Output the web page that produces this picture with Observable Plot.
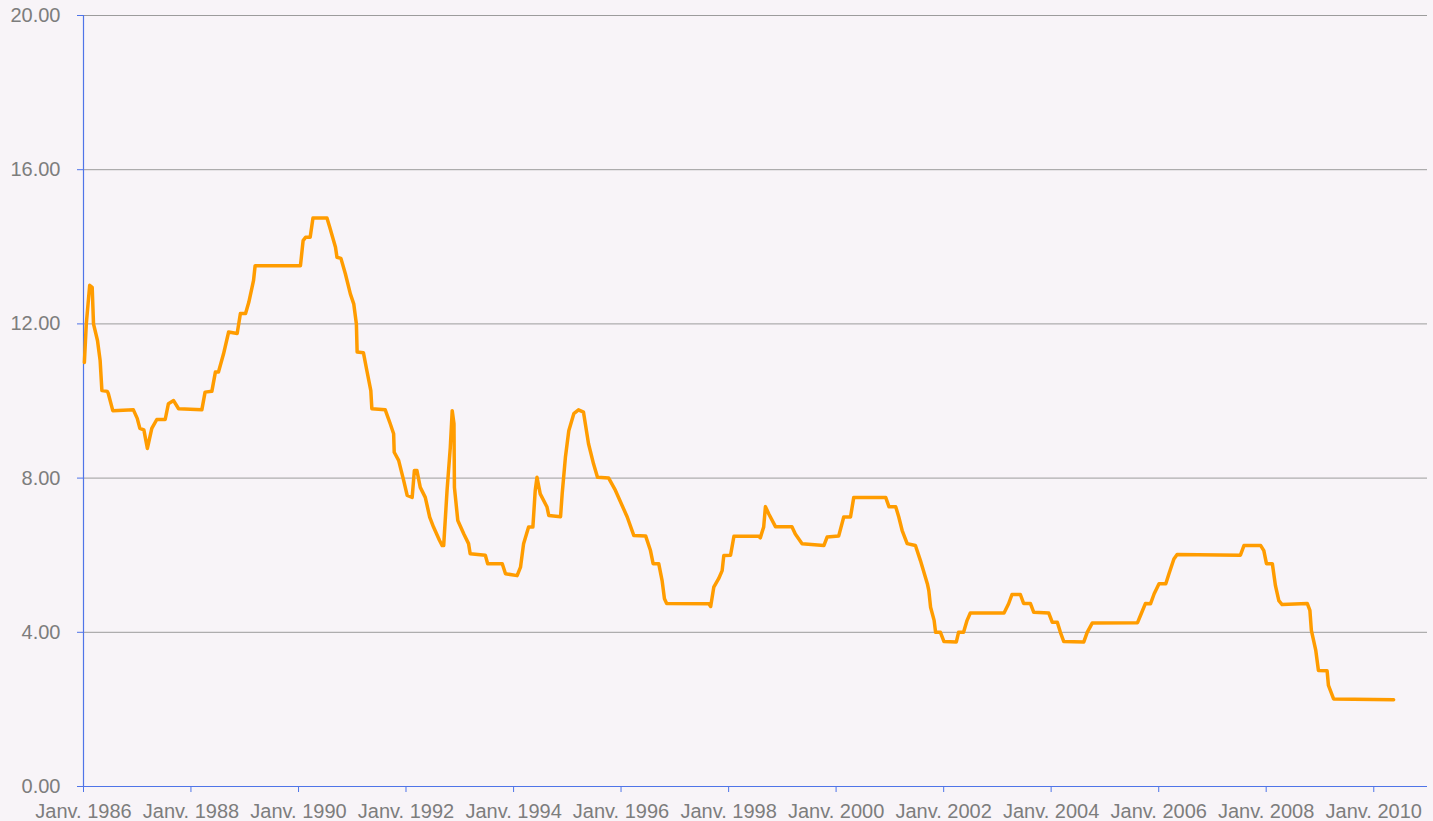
<!DOCTYPE html>
<html>
<head>
<meta charset="utf-8">
<script src="https://cdn.jsdelivr.net/npm/d3@7"></script>
<script src="https://cdn.jsdelivr.net/npm/@observablehq/plot@0.6"></script>
<style>
  html, body { margin: 0; padding: 0; background: #f8f4f8; }
  #chart { width: 1433px; height: 821px; }
</style>
</head>
<body>
<div id="chart"></div>
<script>
const dates = [
  "1986-01-07","1986-01-20","1986-02-12","1986-03-01","1986-03-10","1986-04-06","1986-04-24","1986-05-06","1986-06-11","1986-06-18",
  "1986-07-19","1986-12-06","1987-01-01","1987-01-19","1987-02-15","1987-03-11","1987-04-10","1987-05-14","1987-07-10","1987-08-01",
  "1987-09-05","1987-10-09","1988-03-15","1988-04-06","1988-05-22","1988-06-15","1988-07-06","1988-08-10","1988-09-13","1988-11-10",
  "1988-12-02","1989-01-06","1989-01-28","1989-03-01","1989-03-12","1990-01-14","1990-02-01","1990-02-18","1990-03-21","1990-04-09",
  "1990-07-13","1990-08-01","1990-09-09","1990-09-19","1990-10-16","1990-11-15","1990-12-19","1991-01-11","1991-01-29","1991-02-03",
  "1991-03-18","1991-04-10","1991-05-07","1991-05-14","1991-08-13","1991-09-16","1991-10-09","1991-10-13","1991-11-12","1991-12-16",
  "1992-01-09","1992-02-12","1992-02-27","1992-03-15","1992-04-07","1992-05-11","1992-06-10","1992-07-06","1992-08-16","1992-09-03",
  "1992-09-13","1992-10-06","1992-10-28","1992-11-10","1992-11-22","1992-11-25","1992-12-18","1993-01-28","1993-03-01","1993-03-12",
  "1993-06-23","1993-07-09","1993-10-16","1993-11-07","1994-01-25","1994-02-17","1994-03-10","1994-04-13","1994-05-12","1994-05-28",
  "1994-06-09","1994-07-01","1994-08-16","1994-08-28","1994-11-16","1994-11-27","1994-12-19","1995-01-11","1995-02-14","1995-03-18",
  "1995-04-21","1995-05-25","1995-06-28","1995-07-25","1995-10-09","1995-11-24","1996-02-12","1996-03-28","1996-06-16","1996-07-19",
  "1996-08-06","1996-09-13","1996-10-06","1996-10-22","1996-11-06","1997-08-19","1997-09-01","1997-09-22","1997-10-25","1997-11-18",
  "1997-11-29","1998-01-14","1998-02-06","1998-07-24","1998-08-04","1998-08-27","1998-09-08","1998-10-01","1998-11-15","1999-03-07",
  "1999-03-30","1999-05-15","1999-10-10","1999-11-01","2000-01-19","2000-02-22","2000-04-08","2000-04-30","2000-12-03","2000-12-25",
  "2001-02-09","2001-03-02","2001-03-25","2001-04-28","2001-06-23","2001-07-27","2001-09-12","2001-09-22","2001-10-04","2001-10-28",
  "2001-11-07","2001-12-10","2002-01-03","2002-03-28","2002-04-12","2002-05-16","2002-06-09","2002-07-01","2003-02-15","2003-03-18",
  "2003-04-10","2003-06-06","2003-06-28","2003-08-13","2003-09-05","2003-12-16","2004-01-09","2004-02-12","2004-03-04","2004-03-27",
  "2004-08-10","2004-09-02","2004-10-06","2005-08-10","2005-09-06","2005-10-03","2005-11-06","2005-12-01","2006-01-03","2006-02-18",
  "2006-03-11","2006-04-14","2006-05-06","2007-07-10","2007-08-03","2007-11-25","2007-12-16","2008-01-03","2008-02-12","2008-03-04",
  "2008-03-27","2008-04-18","2008-10-06","2008-10-24","2008-11-03","2008-12-03","2008-12-21","2009-02-18","2009-02-27","2009-04-03",
  "2010-05-16"
];
const values = [
  11.0,12.0,13.0,12.95,12.0,11.57,11.05,10.27,10.25,10.2,
  9.75,9.77,9.55,9.29,9.25,8.77,9.29,9.52,9.52,9.93,
  10.01,9.8,9.77,10.23,10.25,10.75,10.75,11.23,11.79,11.75,
  12.27,12.27,12.56,13.12,13.51,13.51,14.16,14.25,14.25,14.75,
  14.75,14.51,13.99,13.73,13.7,13.3,12.78,12.52,12.0,11.27,
  11.25,10.79,10.27,9.8,9.77,9.41,9.15,8.67,8.46,7.94,
  7.55,7.5,8.2,8.2,7.76,7.5,6.99,6.73,6.38,6.25,
  6.25,7.68,8.8,9.75,9.41,7.76,6.9,6.55,6.3,6.04,
  6.0,5.78,5.78,5.52,5.47,5.69,6.3,6.73,6.73,7.68,
  8.02,7.59,7.25,7.03,7.0,7.59,8.54,9.23,9.67,9.77,
  9.71,8.89,8.37,8.02,8.0,7.68,6.99,6.51,6.5,6.12,
  5.78,5.78,5.34,4.87,4.75,4.74,4.67,5.17,5.39,5.6,
  5.99,6.0,6.49,6.49,6.45,6.73,7.26,7.07,6.74,6.74,
  6.55,6.3,6.25,6.47,6.5,6.99,6.99,7.5,7.5,7.26,
  7.26,6.99,6.64,6.3,6.25,5.86,5.26,5.08,4.65,4.31,
  4.0,4.0,3.76,3.75,4.0,4.0,4.31,4.5,4.5,4.74,
  4.98,4.98,4.75,4.75,4.52,4.5,4.26,4.26,4.0,3.76,
  3.75,4.0,4.24,4.25,4.5,4.75,4.74,5.0,5.26,5.26,
  5.51,5.9,6.02,6.0,6.25,6.25,6.12,5.78,5.78,5.21,
  4.82,4.72,4.75,4.57,4.05,3.53,3.01,3.0,2.62,2.27,
  2.25
];
const yTicks = [0, 4, 8, 12, 16, 20];
const xTickYears = [1986,1988,1990,1992,1994,1996,1998,2000,2002,2004,2006,2008,2010];
const tickPrefix = "Janv. ";

const data = dates.map((d, i) => ({date: new Date(d), value: values[i]}));
const xTicks = xTickYears.map(y => new Date(Date.UTC(y, 0, 1)));
const axisBlue = "#4f74e8";
const textGray = "#7d7d7d";
const start = new Date(Date.UTC(1986, 0, 1));
const end = new Date(Date.UTC(2011, 0, 1));

const chart = Plot.plot({
  width: 1433,
  height: 821,
  marginLeft: 83,
  marginRight: 6,
  marginTop: 15,
  marginBottom: 35,
  style: {background: "#f8f4f8", fontFamily: "'Liberation Sans', Arial, sans-serif", fontSize: "20px", color: textGray},
  x: {type: "utc", domain: [start, end]},
  y: {domain: [0, 20]},
  marks: [
    Plot.gridY(yTicks.filter(t => t > 0), {stroke: "#9c9c9c", strokeOpacity: 1, strokeWidth: 1}),
    Plot.axisY(yTicks, {tickSize: 6, tickPadding: 17, stroke: axisBlue, tickFormat: d => d.toFixed(2), fill: textGray, fontSize: 20, label: null}),
    Plot.axisX(xTicks, {tickSize: 6, tickPadding: 11, stroke: axisBlue, tickFormat: d => tickPrefix + d.getUTCFullYear(), fill: textGray, fontSize: 20, label: null}),
    Plot.ruleX([start], {stroke: axisBlue, strokeWidth: 1.2}),
    Plot.ruleY([0], {stroke: axisBlue, strokeWidth: 1.2}),
    Plot.line(data, {x: "date", y: "value", stroke: "#ff9c00", strokeWidth: 3.5, strokeLinejoin: "round", strokeLinecap: "round", curve: "linear"})
  ]
});
document.getElementById("chart").appendChild(chart);
</script>
</body>
</html>
